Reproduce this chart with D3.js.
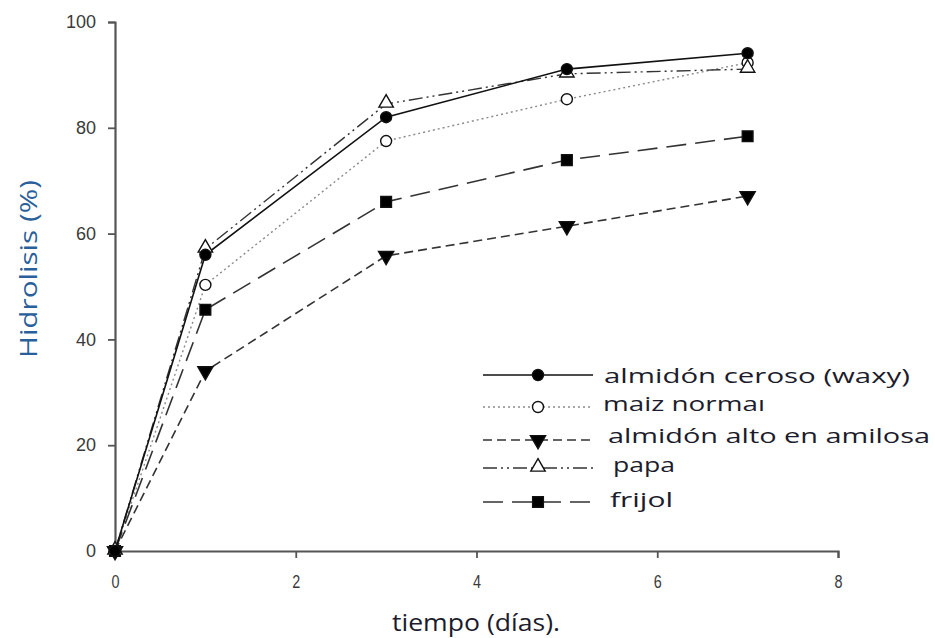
<!DOCTYPE html>
<html>
<head>
<meta charset="utf-8">
<script src="https://cdn.jsdelivr.net/npm/d3@7"></script>
<style>
  html, body { margin: 0; padding: 0; background: #fff; }
  svg { display: block; }
</style>
</head>
<body>
<svg id="chart" width="935" height="638"></svg>
<script>
const days = [0, 1, 3, 5, 7];
const waxy = [0, 56, 82, 91.1, 94.1];
const maizNormal = [0, 50.3, 77.5, 85.4, 92.3];
const altoAmilosa = [0, 34, 55.8, 61.4, 67.1];
const papa = [0, 57.1, 84.5, 90.2, 91.1];
const frijol = [0, 45.6, 66, 73.9, 78.4];
const seriesNames = ["almidón ceroso (waxy)", "maiz normaı", "almidón alto en amilosa", "papa", "frijol"];
const xTicks = [0, 2, 4, 6, 8];
const yTicks = [0, 20, 40, 60, 80, 100];

const series = [
  {name: seriesNames[0], values: waxy, dash: null, color: "#111", width: 1.6, marker: "circle", fill: "#000"},
  {name: seriesNames[1], values: maizNormal, dash: "2,3", color: "#8a8a8a", width: 1.4, marker: "circle", fill: "#fff"},
  {name: seriesNames[2], values: altoAmilosa, dash: "9,5", color: "#333", width: 1.6, marker: "triangle-down", fill: "#000"},
  {name: seriesNames[3], values: papa, dash: "14,4,2,4,2,4", color: "#333", width: 1.4, marker: "triangle", fill: "#fff"},
  {name: seriesNames[4], values: frijol, dash: "20,9", color: "#333", width: 1.6, marker: "square", fill: "#000"}
];

const svg = d3.select("#chart");
const x = d3.scaleLinear().domain([0, 8]).range([115, 838]);
const y = d3.scaleLinear().domain([0, 100]).range([551, 22]);

// axes
const xAxis = d3.axisBottom(x).tickValues(xTicks).tickSize(7).tickSizeOuter(7).tickPadding(17);
const yAxis = d3.axisLeft(y).tickValues(yTicks).tickSize(7).tickSizeOuter(7).tickPadding(12);

const gx = svg.append("g").attr("transform", `translate(0,${y(0)})`).call(xAxis);
const gy = svg.append("g").attr("transform", `translate(${x(0)},0)`).call(yAxis);
[gx, gy].forEach(g => {
  g.attr("font-size", 18).attr("font-family", "Liberation Sans, Arial, sans-serif");
  g.selectAll("path.domain").attr("stroke", "#555").attr("stroke-width", 2.2);
  g.selectAll(".tick line").attr("stroke", "#555").attr("stroke-width", 1.8);
  g.selectAll(".tick text").attr("fill", "#3a3a3a");
});
gx.selectAll(".tick text")
  .attr("textLength", 8)
  .attr("lengthAdjust", "spacingAndGlyphs");

// marker symbol generator
function symbolPath(type, size) {
  if (type === "circle") return d3.symbol(d3.symbolCircle, size)();
  if (type === "square") return d3.symbol(d3.symbolSquare, size)();
  return d3.symbol(d3.symbolTriangle, size)();
}
function markerTransform(type, px, py) {
  if (type === "triangle-down") return `translate(${px},${py}) rotate(180)`;
  if (type === "triangle") return `translate(${px},${py - 1})`;
  return `translate(${px},${py})`;
}
const markerSize = {circle: 95, square: 115, triangle: 90, "triangle-down": 100};

const line = d3.line().x(d => x(d[0])).y(d => y(d[1]));

// draw lines, then markers (black markers on top)
const order = [1, 2, 4, 3, 0];
order.forEach(i => {
  const s = series[i];
  const pts = days.map((d, j) => [d, s.values[j]]);
  svg.append("path").datum(pts)
    .attr("d", line)
    .attr("fill", "none")
    .attr("stroke", s.color)
    .attr("stroke-width", s.width)
    .attr("stroke-dasharray", s.dash);
});
order.forEach(i => {
  const s = series[i];
  const pts = days.map((d, j) => [d, s.values[j]]);
  svg.append("g").selectAll("path").data(pts).join("path")
    .attr("d", symbolPath(s.marker, markerSize[s.marker]))
    .attr("transform", d => markerTransform(s.marker, x(d[0]), y(d[1])))
    .attr("fill", s.fill)
    .attr("stroke", "#111")
    .attr("stroke-width", 1.4);
});

// legend
const legendRows = [375, 407, 440, 468, 502];
const legendBase = [383, 411, 443, 472, 507];
const legendTextX = [604, 603, 608, 613, 610];
const legendTextW = [306, 162, 322, 62, 63];
series.forEach((s, i) => {
  const ly = legendRows[i];
  svg.append("line")
    .attr("x1", 483).attr("x2", 593).attr("y1", ly).attr("y2", ly)
    .attr("stroke", s.color)
    .attr("stroke-width", s.width)
    .attr("stroke-dasharray", s.dash);
  svg.append("path")
    .attr("d", symbolPath(s.marker, markerSize[s.marker]))
    .attr("transform", markerTransform(s.marker, 538, ly))
    .attr("fill", s.fill)
    .attr("stroke", "#111")
    .attr("stroke-width", 1.4);
  svg.append("text")
    .attr("x", legendTextX[i]).attr("y", legendBase[i])
    .attr("fill", "#1c1c2c")
    .attr("textLength", legendTextW[i])
    .attr("lengthAdjust", "spacingAndGlyphs")
    .style("font-family", "Open Sans, sans-serif")
    .style("font-size", "20px")
    .text(s.name);
});

// axis titles
svg.append("text")
  .attr("transform", `translate(37,269) rotate(-90)`)
  .attr("text-anchor", "middle")
  .attr("fill", "#2a5f9a")
  .attr("textLength", 178)
  .attr("lengthAdjust", "spacingAndGlyphs")
  .style("font-family", "Open Sans, sans-serif")
  .style("font-size", "23px")
  .text("Hidrolisis (%)");

svg.append("text")
  .attr("x", 476).attr("y", 631)
  .attr("text-anchor", "middle")
  .attr("fill", "#1c1c2c")
  .attr("textLength", 168)
  .attr("lengthAdjust", "spacingAndGlyphs")
  .style("font-family", "Open Sans, sans-serif")
  .style("font-size", "24px")
  .text("tiempo (días).");
</script>
</body>
</html>
